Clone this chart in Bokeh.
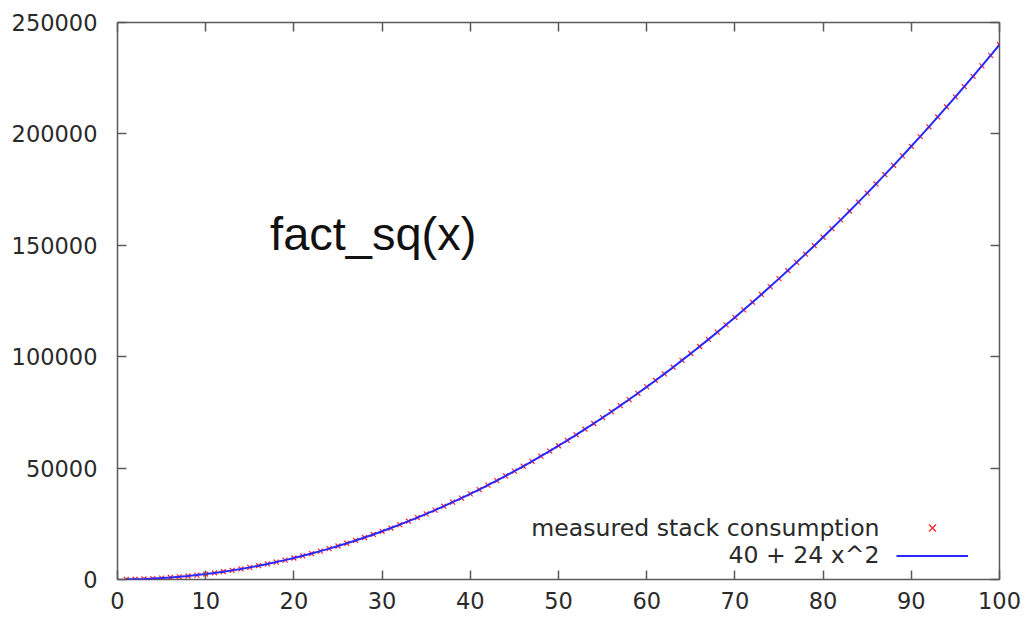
from bokeh.plotting import figure
from bokeh.models import (Range1d, LinearAxis, FixedTicker, Label, Legend,
                          LegendItem, NumeralTickFormatter)
from bokeh.embed import file_html
from bokeh.resources import INLINE

# ---- data ----
x_values = [1, 2, 3, 4, 5, 6, 7, 8, 9, 10,
            11, 12, 13, 14, 15, 16, 17, 18, 19, 20,
            21, 22, 23, 24, 25, 26, 27, 28, 29, 30,
            31, 32, 33, 34, 35, 36, 37, 38, 39, 40,
            41, 42, 43, 44, 45, 46, 47, 48, 49, 50,
            51, 52, 53, 54, 55, 56, 57, 58, 59, 60,
            61, 62, 63, 64, 65, 66, 67, 68, 69, 70,
            71, 72, 73, 74, 75, 76, 77, 78, 79, 80,
            81, 82, 83, 84, 85, 86, 87, 88, 89, 90,
            91, 92, 93, 94, 95, 96, 97, 98, 99, 100]

stack_bytes = [64, 136, 256, 424, 640, 904, 1216, 1576, 1984, 2440,
               2944, 3496, 4096, 4744, 5440, 6184, 6976, 7816, 8704, 9640,
               10624, 11656, 12736, 13864, 15040, 16264, 17536, 18856, 20224, 21640,
               23104, 24616, 26176, 27784, 29440, 31144, 32896, 34696, 36544, 38440,
               40384, 42376, 44416, 46504, 48640, 50824, 53056, 55336, 57664, 60040,
               62464, 64936, 67456, 70024, 72640, 75304, 78016, 80776, 83584, 86440,
               89344, 92296, 95296, 98344, 101440, 104584, 107776, 111016, 114304, 117640,
               121024, 124456, 127936, 131464, 135040, 138664, 142336, 146056, 149824, 153640,
               157504, 161416, 165376, 169384, 173440, 177544, 181696, 185896, 190144, 194440,
               198784, 203176, 207616, 212104, 216640, 221224, 225856, 230536, 235264, 240040]

# fitted curve, indistinguishable from the measured points in the picture
fit_bytes = list(stack_bytes)

x_ticks = [0, 10, 20, 30, 40, 50, 60, 70, 80, 90, 100]
y_ticks = [0, 50000, 100000, 150000, 200000, 250000]

series_labels = ["measured stack consumption", "40 + 24 x^2"]
title_text = "fact_sq(x)"

TICK_FONT = "DejaVu Sans"
TICK_SIZE = "22.5px"
LEGEND_SIZE = "23.6px"
BORDER = "#5a5a5a"
TEXT_COLOR = "#2a2a2a"

p = figure(width=1025, height=617, output_backend="svg", toolbar_location=None,
           x_range=Range1d(0, 100), y_range=Range1d(0, 250000),
           min_border_left=117, min_border_right=26, min_border_top=22,
           min_border_bottom=38, x_axis_type=None, y_axis_type=None)
p.background_fill_color = "white"
p.border_fill_color = "white"
p.outline_line_color = BORDER
p.outline_line_width = 1.5
p.xgrid.visible = False
p.ygrid.visible = False


def make_axis(ticks, show_labels, standoff=0):
    ax = LinearAxis(ticker=FixedTicker(ticks=ticks),
                    formatter=NumeralTickFormatter(format="0"))
    ax.axis_line_color = None
    ax.major_tick_in = 9
    ax.major_tick_out = 0
    ax.major_tick_line_color = BORDER
    ax.major_tick_line_width = 1.5
    ax.minor_tick_line_color = None
    ax.major_label_text_font = TICK_FONT
    ax.major_label_text_font_size = TICK_SIZE
    ax.major_label_text_color = TEXT_COLOR
    ax.major_label_standoff = standoff
    if not show_labels:
        ax.major_label_overrides = {t: "" for t in ticks}
    return ax


p.add_layout(make_axis(x_ticks, True, 12), "below")
p.add_layout(make_axis(y_ticks, True, 20), "left")
p.add_layout(make_axis(x_ticks, False), "above")
p.add_layout(make_axis(y_ticks, False), "right")

pts = p.scatter(x_values, stack_bytes, marker="x", size=7,
                line_color="#ff2020", line_width=1.2)
ln = p.line(x_values, fit_bytes, line_color="#2828ff", line_width=2)

# legend samples (glyphs only); the texts sit to their left, gnuplot style
legend = Legend(items=[LegendItem(label=" ", renderers=[pts]),
                       LegendItem(label=" ", renderers=[ln])],
                location=(779, 11), orientation="vertical",
                glyph_width=72, glyph_height=25, label_height=25,
                label_width=0, spacing=3, padding=0, margin=0,
                label_standoff=0, label_text_font=TICK_FONT,
                label_text_font_size="22px",
                border_line_alpha=0, background_fill_alpha=0)
p.add_layout(legend)

legend_text_x = 86.4
legend_text_y = [23300, 10800]
for lab, ly in zip(series_labels, legend_text_y):
    p.add_layout(Label(x=legend_text_x, y=ly, text=lab, text_font=TICK_FONT,
                       text_font_size=LEGEND_SIZE, text_color=TEXT_COLOR,
                       text_align="right", text_baseline="middle"))

p.add_layout(Label(x=17.3, y=155500, text=title_text, text_font="Liberation Sans",
                   text_font_size="47px", text_color="#111111",
                   text_baseline="alphabetic"))

open("out.html", "w").write(file_html(p, INLINE))
